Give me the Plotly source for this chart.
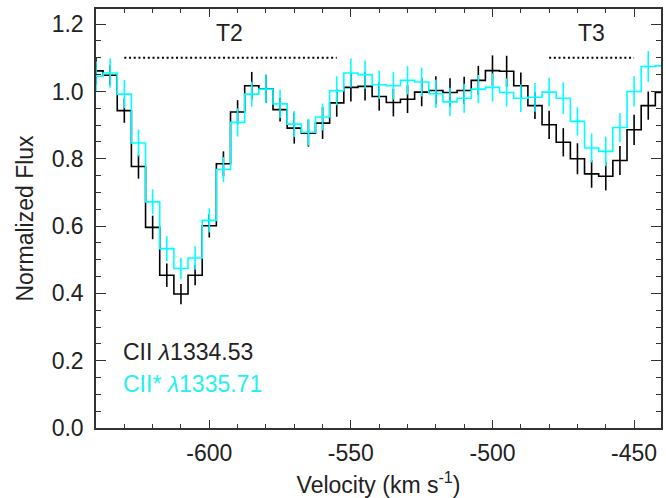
import plotly.graph_objects as go

# Velocity bin centres (km/s)
velocity = [-640, -635, -630, -625, -620, -615, -610, -605, -600, -595,
            -590, -585, -580, -575, -570, -565, -560, -555, -550, -545,
            -540, -535, -530, -525, -520, -515, -510, -505, -500, -495,
            -490, -485, -480, -475, -470, -465, -460, -455, -450, -445, -440]

# CII 1334.53 normalized flux and 1-sigma errors
flux_cii = [1.061, 1.048, 0.943, 0.777, 0.596, 0.454, 0.398, 0.454, 0.601, 0.785,
            0.939, 1.017, 1.008, 0.946, 0.891, 0.876, 0.906, 0.966, 1.012, 1.015,
            0.985, 0.967, 0.977, 0.998, 1.003, 0.997, 1.003, 1.033, 1.062, 1.060,
            1.017, 0.958, 0.901, 0.849, 0.800, 0.755, 0.748, 0.795, 0.886, 0.958, 0.997]
err_cii = [0.040, 0.030, 0.036, 0.036, 0.035, 0.035, 0.030, 0.030, 0.035, 0.037,
           0.035, 0.041, 0.042, 0.035, 0.046, 0.040, 0.047, 0.041, 0.042, 0.042,
           0.042, 0.041, 0.041, 0.042, 0.042, 0.042, 0.041, 0.043, 0.045, 0.046,
           0.039, 0.040, 0.042, 0.042, 0.046, 0.041, 0.042, 0.043, 0.045, 0.042, 0.040]

# CII* 1335.71 normalized flux and 1-sigma errors
flux_ciis = [1.045, 1.055, 0.992, 0.847, 0.672, 0.533, 0.474, 0.505, 0.617, 0.768,
             0.908, 0.992, 1.007, 0.963, 0.903, 0.879, 0.924, 1.002, 1.055, 1.050,
             1.020, 1.017, 1.033, 1.028, 0.993, 0.969, 0.980, 1.007, 1.012, 0.997,
             0.980, 0.983, 0.998, 0.980, 0.911, 0.832, 0.822, 0.893, 1.000, 1.074, 1.076]
err_ciis = [0.045, 0.044, 0.042, 0.040, 0.037, 0.037, 0.032, 0.035, 0.036, 0.037,
            0.042, 0.037, 0.042, 0.042, 0.039, 0.040, 0.040, 0.043, 0.043, 0.042,
            0.042, 0.041, 0.042, 0.043, 0.042, 0.042, 0.043, 0.042, 0.042, 0.042,
            0.041, 0.043, 0.042, 0.047, 0.042, 0.043, 0.044, 0.043, 0.045, 0.046, 0.045]

# Axis ticks
x_tickvals = [-600, -550, -500, -450]
x_ticktext = ["-600", "-550", "-500", "-450"]
y_tickvals = [0, 0.2, 0.4, 0.6, 0.8, 1.0, 1.2]
y_ticktext = ["0.0", "0.2", "0.4", "0.6", "0.8", "1.0", "1.2"]

# Component markers
comp_labels = ["T2", "T3"]
comp_start = [-630, -480]
comp_end = [-555, -450]
comp_level = 1.1
comp_text_x = [-593, -465]
comp_text_y = 1.174

legend_labels = ["CII <i>λ</i>1334.53", "CII* <i>λ</i>1335.71"]
series_colors = ["#000000", "#00FFFF"]

FONT = "Liberation Sans, Arial, Helvetica, sans-serif"
TXT = "#222222"
FS = 23

fig = go.Figure()

for flux, err, col in [(flux_cii, err_cii, series_colors[0]), (flux_ciis, err_ciis, series_colors[1])]:
    fig.add_trace(go.Scatter(
        x=velocity, y=flux, mode="markers",
        marker=dict(size=1, color="rgba(0,0,0,0)"),
        error_y=dict(type="data", array=err, visible=True, color=col, thickness=1.6, width=0),
        showlegend=False, hoverinfo="skip"))
    fig.add_trace(go.Scatter(
        x=velocity, y=flux, mode="lines", line=dict(shape="hvh", color=col, width=1.6),
        showlegend=False))

for s, e in zip(comp_start, comp_end):
    fig.add_trace(go.Scatter(
        x=[s, e], y=[comp_level, comp_level], mode="lines",
        line=dict(color="black", width=2, dash="2px,2.7px"), showlegend=False))

for lab, tx in zip(comp_labels, comp_text_x):
    fig.add_annotation(x=tx, y=comp_text_y, text=lab, showarrow=False,
                       font=dict(family=FONT, size=FS, color=TXT), xanchor="center", yanchor="middle")

fig.add_annotation(x=-631, y=0.227, text=legend_labels[0], showarrow=False,
                   font=dict(family=FONT, size=FS, color=TXT), xanchor="left", yanchor="middle")
fig.add_annotation(x=-631, y=0.132, text=legend_labels[1], showarrow=False,
                   font=dict(family=FONT, size=FS, color="#22F0F5"), xanchor="left", yanchor="middle")

axis_common = dict(
    showgrid=False, zeroline=False, showline=True, linecolor="#333333", linewidth=1.5,
    mirror="ticks", ticks="inside", tickcolor="#333333", tickwidth=1.2,
    tickfont=dict(family=FONT, size=FS, color=TXT),
)

fig.update_xaxes(
    range=[-640, -440.5], tickvals=x_tickvals, ticktext=x_ticktext, ticklen=8,
    minor=dict(dtick=10, ticks="inside", ticklen=4, tickcolor="#333333", tickwidth=1.2),
    title=dict(text="Velocity (km s<sup>-1</sup>)", font=dict(family=FONT, size=FS, color=TXT), standoff=12),
    ticklabelstandoff=4,
    **axis_common)
fig.update_yaxes(
    range=[0, 1.245], tickvals=y_tickvals, ticktext=y_ticktext, ticklen=10,
    minor=dict(dtick=0.05, ticks="inside", ticklen=5, tickcolor="#333333", tickwidth=1.2),
    title=dict(text="Normalized Flux", font=dict(family=FONT, size=FS, color=TXT), standoff=12),
    ticklabelstandoff=6,
    **axis_common)

fig.update_layout(
    width=666, height=498, margin=dict(l=96, r=3, t=9, b=70),
    plot_bgcolor="white", paper_bgcolor="white", showlegend=False,
)

fig.write_html("out.html")
